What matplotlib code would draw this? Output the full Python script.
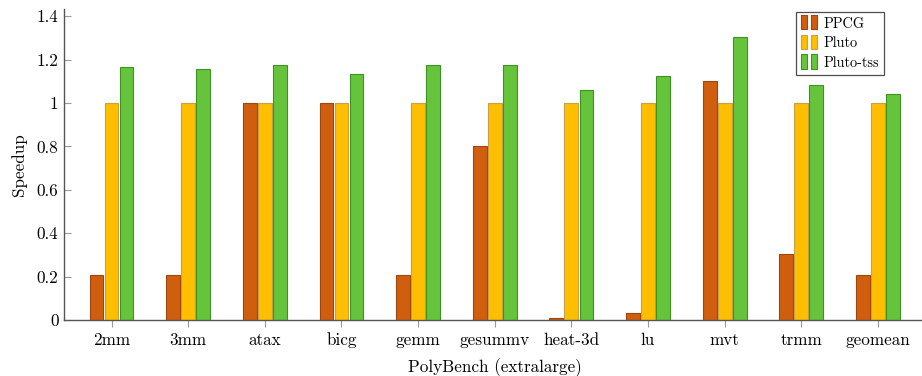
import numpy as np
import matplotlib
matplotlib.use("Agg")
import matplotlib.pyplot as plt
from matplotlib.patches import Rectangle
from matplotlib.legend_handler import HandlerBase

plt.rcParams["font.family"] = ["cmr10", "DejaVu Serif"]
plt.rcParams["mathtext.fontset"] = "cm"
plt.rcParams["axes.formatter.use_mathtext"] = True

benchmarks = ["2mm", "3mm", "atax", "bicg", "gemm", "gesummv", "heat-3d",
              "lu", "mvt", "trmm", "geomean"]
ppcg = [0.207, 0.209, 1.0, 1.0, 0.209, 0.80, 0.008, 0.032, 1.103, 0.303, 0.206]
pluto = [1.0] * 11
pluto_tss = [1.165, 1.157, 1.177, 1.134, 1.175, 1.177, 1.061, 1.126, 1.303, 1.085, 1.043]
series_names = ["PPCG", "Pluto", "Pluto-tss"]
yticks = [0, 0.2, 0.4, 0.6, 0.8, 1.0, 1.2, 1.4]
ytick_labels = ["0", "0.2", "0.4", "0.6", "0.8", "1", "1.2", "1.4"]

fills = ["#D05E0F", "#FFBE00", "#66C43C"]
edges = ["#9E4510", "#C9A04A", "#3E9224"]

fig = plt.figure(figsize=(9.22, 3.76), dpi=100)
ax = fig.add_axes([64 / 922, 56 / 376, (925.5 - 64) / 922, (320 - 9.3) / 376])

x = np.arange(len(benchmarks))
width = 0.18
offset = 0.196
for i, (vals, fc, ec, name) in enumerate(zip([ppcg, pluto, pluto_tss], fills, edges, series_names)):
    ax.bar(x + (i - 1) * offset, vals, width, color=fc, edgecolor=ec,
           linewidth=0.8, label=name, zorder=2)

fs = 12.3
ax.set_xlim(-0.62, 10.62)
ax.set_ylim(0, 1.432)
ax.set_xticks(x)
ax.set_xticklabels(benchmarks, fontsize=fs)
ax.set_yticks(yticks)
ax.set_yticklabels(ytick_labels, fontsize=fs)
ax.set_ylabel("Speedup", fontsize=fs, labelpad=7)
ax.set_xlabel("PolyBench (extralarge)", fontsize=fs, labelpad=7)

for s in ["top", "right"]:
    ax.spines[s].set_visible(False)
for s in ["left", "bottom"]:
    ax.spines[s].set_color("#555555")
    ax.spines[s].set_linewidth(1.0)
ax.tick_params(axis="x", direction="out", length=5, color="#999999", width=0.8, pad=4)
ax.tick_params(axis="y", direction="in", length=5, color="#999999", width=0.8, pad=4)


class TwinBarHandler(HandlerBase):
    def create_artists(self, legend, orig_handle, xdescent, ydescent,
                       width, height, fontsize, trans):
        fc = orig_handle.get_facecolor()
        ec = orig_handle.get_edgecolor()
        w = width * 0.36
        arts = []
        for x0 in (0.0, width * 0.56):
            r = Rectangle((x0 - xdescent, -ydescent - 1), w, height + 3,
                          facecolor=fc, edgecolor=ec, linewidth=0.8, transform=trans)
            arts.append(r)
        return arts


handles, labels = ax.get_legend_handles_labels()
patches = [h.patches[0] for h in handles]
leg = ax.legend(patches, labels, handler_map={type(patches[0]): TwinBarHandler()},
                loc="upper left", fontsize=10.3, frameon=True,
                fancybox=False, edgecolor="#222222", handlelength=1.25,
                handletextpad=0.3, borderpad=0.35, labelspacing=0.42,
                borderaxespad=0)
leg.set_bbox_to_anchor((796 / 922, 1 - 12 / 376), transform=fig.transFigure)
leg.get_frame().set_linewidth(0.9)

fig.savefig("out.png", dpi=100)
